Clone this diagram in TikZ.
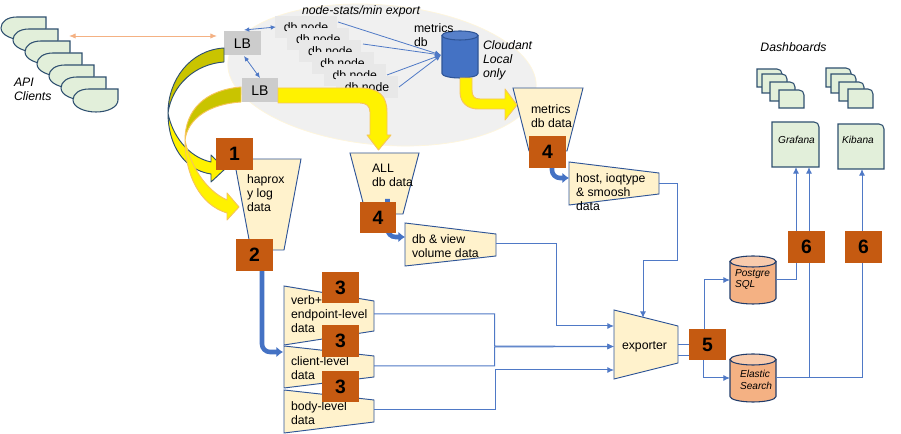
\documentclass[tikz,border=0pt]{standalone}
\usepackage{fontspec}
\setmainfont{Liberation Sans}
\usetikzlibrary{arrows.meta,shapes.geometric}
\definecolor{badgec}{HTML}{C55A11}
\definecolor{creamf}{HTML}{FFF2CC}
\definecolor{edgec}{HTML}{2F5597}
\definecolor{linec}{HTML}{4F79C6}
\definecolor{greenf}{HTML}{E2EFDA}
\definecolor{darkedge}{HTML}{2F5070}
\definecolor{olivef}{HTML}{C9C400}
\definecolor{yellowedge}{HTML}{F6C55A}
\definecolor{orangef}{HTML}{F4B183}
\definecolor{orangetop}{HTML}{F8CBAD}
\definecolor{bluef}{HTML}{4472C4}
\tikzset{
  base/.style={inner sep=0pt,outer sep=0pt},
  lbl/.style={base,anchor=west,align=left,font=\fontsize{9.2}{10.6}\selectfont},
  ilbl/.style={base,anchor=west,align=left,font=\fontsize{9.2}{10.6}\selectfont\itshape},
  slbl/.style={base,anchor=west,align=left,font=\fontsize{7.6}{8.9}\selectfont\itshape},
  badge/.style={base,fill=badgec,minimum width=27.6pt,minimum height=23.6pt,font=\fontsize{14.5}{15}\selectfont\bfseries},
  lbbox/.style={base,fill=black!20,minimum width=27.5pt,minimum height=18pt,font=\fontsize{10.5}{11}\selectfont},
  dbbox/.style={base,fill=black!9,minimum width=46.5pt,minimum height=16.5pt,font=\fontsize{9.2}{10}\selectfont},
  trap/.style={draw=edgec,fill=creamf,line width=.7pt,line join=miter},
  conn/.style={draw=linec,line width=.75pt},
  connarrow/.style={conn,-{Latex[length=5pt,width=4.5pt]}},
  thin2/.style={draw=linec,line width=.6pt,{Latex[length=4pt,width=3.5pt]}-{Latex[length=4pt,width=3.5pt]}},
  thin1/.style={draw=linec,line width=.6pt,-{Latex[length=4.5pt,width=4pt]}},
  peach/.style={draw=orangef,line width=.7pt,{Latex[length=5pt,width=4pt]}-{Latex[length=5pt,width=4pt]}},
  fat/.style={draw=bluef,line width=3.4pt,-{Latex[length=5pt,width=8pt]},rounded corners=6pt},
  greenshape/.style={draw=darkedge,fill=greenf,line width=.8pt},
  ybig/.style={fill=yellow,draw=yellowedge,line width=.7pt,line join=round},
  anchorbox/.style={base,rectangle},
}
\newcommand{\pagebox}[4]{\draw[greenshape] (#1,#2) -- (#3-5,#2) .. controls (#3-2,#2) and (#3,#2+2) .. (#3,#2+5) -- (#3,#4) -- (#1,#4) -- cycle;}
% name, x1, x2, y1, y2, ry, body colour, top colour, edge colour
\newcommand{\storecyl}[9]{%
  \pgfmathsetmacro{\cxm}{(#2+#3)/2}%
  \pgfmathsetmacro{\crx}{(#3-#2)/2}%
  \pgfmathsetmacro{\cyT}{#4+#6}%
  \pgfmathsetmacro{\cyB}{#5-#6}%
  \pgfmathsetmacro{\ckx}{0.5523*\crx}%
  \pgfmathsetmacro{\cky}{0.5523*#6}%
  \draw[fill=#7,draw=#9,line width=.8pt] (#2,\cyT) -- (#2,\cyB) .. controls (#2,\cyB+\cky) and (\cxm-\ckx,#5) .. (\cxm,#5) .. controls (\cxm+\ckx,#5) and (#3,\cyB+\cky) .. (#3,\cyB) -- (#3,\cyT) -- cycle;
  \draw[fill=#8,draw=#9,line width=.8pt] (#2,\cyT) .. controls (#2,\cyT-\cky) and (\cxm-\ckx,#4) .. (\cxm,#4) .. controls (\cxm+\ckx,#4) and (#3,\cyT-\cky) .. (#3,\cyT) .. controls (#3,\cyT+\cky) and (\cxm+\ckx,\cyT+#6) .. (\cxm,\cyT+#6) .. controls (\cxm-\ckx,\cyT+#6) and (#2,\cyT+\cky) .. (#2,\cyT) -- cycle;
  \node[anchorbox,minimum width={.75pt*(#3-#2)},minimum height={.75pt*(#5-#4)}] (#1) at (\cxm,{(#4+#5)/2}) {};
}
\begin{document}
\begin{tikzpicture}[x=.75pt,y=-.75pt]
\useasboundingbox (0,0) rectangle (901,434);
\fill[white] (0,0) rectangle (901,434);

% cloud
\node[base,ellipse,fill=black!6,draw=creamf!70,line width=.5pt,minimum width=232pt,minimum height=105pt,rotate=-5] (cloud) at (382,75) {};

% API clients
\foreach \i in {0,...,6}{
  \draw[greenshape,shift={(1+12*\i,17+12*\i)}] (45,0) -- (16,0) .. controls (6,0) and (0,5) .. (0,11) .. controls (0,18) and (11,23) .. (23,23) .. controls (35,23) and (45,18) .. (45,11) -- cycle;
}
\node[ilbl] (apilbl) at (14,89) {API\\Clients};
\coordinate (apiR) at (69,36);
\coordinate (lbL) at (217,36);
\draw[peach] (apiR) -- (lbL);

% db nodes
\foreach \i in {1,...,6}{
  \node[dbbox] (db\i) at ({306+12.2*(\i-1)},{27+12*(\i-1)}) {db node};
}
% LB
\node[lbbox] (lbA) at (242.5,43.5) {LB};
\node[lbbox] (lbB) at (260,90.5) {LB};
\coordinate (dbIn) at (441,55);
\draw[thin2] (244,30) -- (276,27);
\draw[thin2] (244,56) -- (260,78);
\draw[thin1] (338,22) -- (dbIn);
\draw[thin1] (363,44) -- (dbIn);
\draw[thin1] (387,75) -- (dbIn);
\draw[thin1] (399,87) -- (dbIn);

% cylinder metrics
\storecyl{metricsdb}{442}{478}{31}{78}{4.5}{bluef}{bluef!90!white}{edgec}
\node[lbl] (metricslbl) at (414,35) {metrics\\db};
\node[ilbl] (cloudantlbl) at (483,60) {Cloudant\\Local\\only};
\node[ilbl,anchor=center] (statslbl) at (361,11) {node-stats/min export};

% trapezoids
\draw[trap] (234,159) -- (301,159) -- (284,250) -- (251,250) -- cycle;
\draw[trap] (350,153) -- (419,153) -- (403,214) -- (366,214) -- cycle;
\draw[trap] (513,88) -- (583,88) -- (567,151) -- (529,151) -- cycle;
\draw[trap] (405,223) -- (496,234) -- (496,256) -- (405,266) -- cycle;
\draw[trap] (569,162) -- (659,173) -- (659,194) -- (569,205) -- cycle;
\draw[trap] (284,286) -- (374,301) -- (374,331) -- (284,345) -- cycle;
\draw[trap] (284,346) -- (374,356) -- (374,377) -- (284,388) -- cycle;
\draw[trap] (284,390) -- (374,400) -- (374,422) -- (284,433) -- cycle;
\draw[trap] (614,310) -- (678,326) -- (678,363) -- (614,379) -- cycle;

% yellow arrows
\draw[ybig] (278,88) -- (360,88) .. controls (379,88) and (387,96) .. (387,112) -- (387,135) -- (391,135) -- (378.5,150) -- (367,135) -- (370,135) -- (370,112) .. controls (370,106) and (366,103) .. (360,103) -- (278,103) -- cycle;
\draw[ybig] (460,78) -- (460,92) .. controls (460,103) and (468,109) .. (478,109) -- (505,109) -- (505,120) -- (517,105) -- (505,89) -- (505,99) -- (480,99) .. controls (474,99) and (472,96) .. (472,90) -- (472,78) -- cycle;

% curved arrows
\draw[fill=yellow,draw=darkedge,line width=.7pt,line join=round] (168,113) .. controls (172,135) and (188,157) .. (211,162) -- (211,155) -- (225,169) -- (211,182) -- (211,174) .. controls (184,170) and (168,145) .. (168,113) -- cycle;
\draw[fill=olivef,draw=darkedge,line width=.7pt,line join=round] (224,48) .. controls (190,50) and (168,80) .. (168,113) .. controls (172,85) and (195,64) .. (224,62) -- cycle;
\draw[ybig] (185,140) .. controls (190,165) and (205,190) .. (227,200) -- (227,193) -- (239,207) -- (227,220) -- (227,213) .. controls (200,205) and (185,175) .. (185,140) -- cycle;
\draw[fill=olivef,draw=yellowedge,line width=.7pt,line join=round] (241,87) .. controls (205,90) and (185,110) .. (185,140) .. controls (188,118) and (210,104) .. (241,102) -- cycle;

% fat arrows
\coordinate (haproxOut) at (262,262);
\coordinate (fatOne) at (283,352);
\draw[fat] (haproxOut) -- (262,352) -- (fatOne);
\draw[fat] (387.5,199) -- (387.5,237) -- (405,237);
\draw[fat] (552,165) -- (552,178) -- (569,178);

% exporter connectors
\coordinate (hostOut) at (659,184);
\coordinate (viewOut) at (496,244);
\coordinate (verbOut) at (374,314);
\coordinate (clientOut) at (374,366);
\coordinate (bodyOut) at (374,410);
\coordinate (expTop) at (643,318);
\coordinate (expA) at (614,326);
\coordinate (expB) at (614,346.5);
\coordinate (expC) at (614,370);
\draw[connarrow] (hostOut) -- (677,184) -- (677,261) -- (643,261) -- (expTop);
\draw[connarrow] (viewOut) -- (556,244) -- (556,326) -- (expA);
\draw[connarrow] (verbOut) -- (494.5,314) -- (494.5,346) -- (expB);
\draw[connarrow] (clientOut) -- (494.5,366) -- (494.5,347) -- (expB);
\draw[connarrow] (bodyOut) -- (495,410) -- (495,370) -- (expC);

% stores
\storecyl{pg}{730}{776}{256}{304}{5.5}{orangef}{orangetop}{edgec!70!black}
\storecyl{es}{730}{776}{354}{402}{5.5}{orangef}{orangetop}{edgec!70!black}
\node[slbl] (pglbl) at (735,279.5) {Postgre\\SQL};
\node[slbl] (eslbl) at (740,380) {Elastic\\Search};
\coordinate (expR) at (678,345);
\coordinate (expS) at (678,356);
\draw[connarrow] (expR) -- (704,345) -- (704,280) -- (pg.west);
\draw[connarrow] (expS) -- (703,356) -- (703,378) -- (es.west);

% dashboards
\pagebox{757}{69}{782}{87}
\pagebox{762}{74}{787}{93}
\pagebox{770}{82}{795}{101}
\pagebox{779}{90}{804}{108}
\pagebox{826}{68}{851}{87}
\pagebox{831}{74}{856}{93}
\pagebox{839}{82}{864}{101}
\pagebox{848}{89}{873}{108}
\pagebox{772}{122}{819}{167}
\pagebox{838}{124}{884}{169}
\node[ilbl,anchor=center] (dashlbl) at (793.5,47) {Dashboards};
\node[slbl,anchor=center] (grafana) at (796.5,140) {Grafana};
\node[slbl,anchor=center] (kibana) at (858,140) {Kibana};
\coordinate (grafIn) at (796,167);
\coordinate (grafInB) at (809,167);
\coordinate (kibIn) at (862,169);
\draw[connarrow] (pg.east) -- (796,280) -- (grafIn);
\draw[connarrow] (es.east) -- (809,378) -- (grafInB);
\draw[connarrow] (es.east) -- (862,378) -- (kibIn);

% labels
\node[lbl] (hapl) at (247,193) {haprox\\y log\\data};
\node[lbl] (alll) at (372,175) {ALL\\db data};
\node[lbl] (metl) at (531,116) {metrics\\db data};
\node[lbl] (viewl) at (412,246) {db \& view\\volume data};
\node[lbl] (hostl) at (576,192) {host, ioqtype\\\& smoosh\\data};
\node[lbl] (verbl) at (291,314) {verb+\\endpoint-level\\data};
\node[lbl] (clientl) at (291,368) {client-level\\data};
\node[lbl] (bodyl) at (291,413) {body-level\\data};
\node[lbl,anchor=center] (expl) at (644.5,347) {exporter};

% badges
\node[badge] (b1) at (234.5,154) {1};
\node[badge] (b2) at (254.5,255) {2};
\node[badge,minimum width=27pt] (b4a) at (378,217.5) {4};
\node[badge] (b4b) at (547.5,152) {4};
\node[badge] (b3a) at (340.5,287.5) {3};
\node[badge] (b3b) at (340.5,341) {3};
\node[badge] (b3c) at (340.5,386.5) {3};
\node[badge] (b5) at (707.5,344.5) {5};
\node[badge] (b6a) at (806.5,247) {6};
\node[badge] (b6b) at (863.5,247) {6};
\end{tikzpicture}
\end{document}
